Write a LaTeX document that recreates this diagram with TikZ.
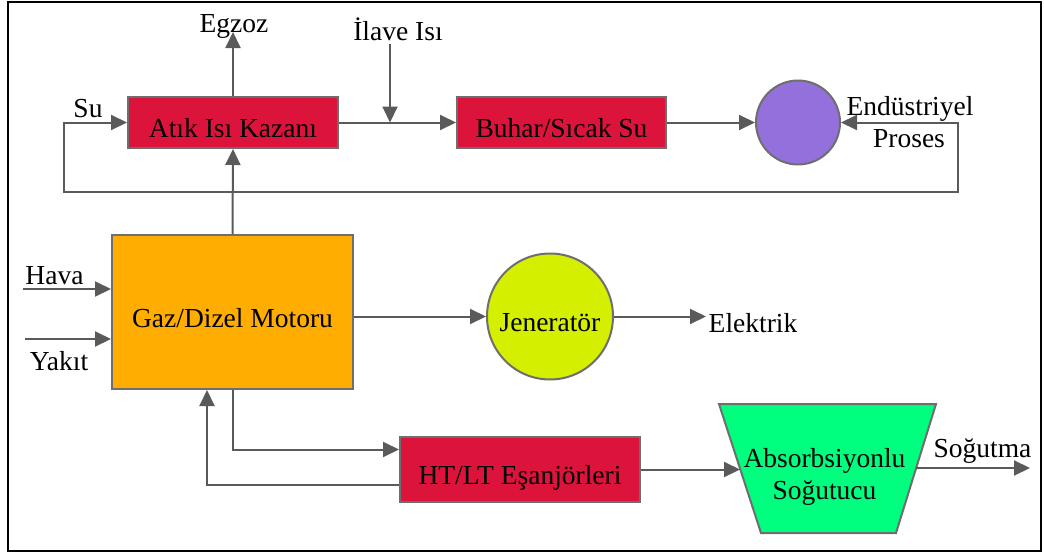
\documentclass[tikz,border=0pt]{standalone}
\usepackage{fontspec}
\setmainfont{Liberation Serif}
\newfontfamily\lserif{Liberation Serif}
\usetikzlibrary{arrows.meta,calc}
\definecolor{lineg}{HTML}{5A5A5A}
\definecolor{edgeg}{HTML}{6E6E6E}
\definecolor{kred}{HTML}{DC143C}
\definecolor{korange}{HTML}{FFAD00}
\definecolor{kpurple}{HTML}{9370DB}
\definecolor{kyellow}{HTML}{D4F000}
\definecolor{kgreen}{HTML}{00FF7F}
\begin{document}
\begin{tikzpicture}[x=1pt,y=-1pt,
  every node/.style={font=\lserif\fontsize{27.5}{32}\selectfont, inner sep=0pt},
  tip/.tip={Triangle[length=16pt,width=15pt]},
  flow/.style={draw=lineg, line width=2pt, -tip},
  flowboth/.style={draw=lineg, line width=2pt, tip-tip},
  boxnode/.style={draw=edgeg, line width=2pt, text height=30pt, text depth=0pt},
  roundnode/.style={circle, draw=edgeg, line width=2pt},
  lbl/.style={anchor=base}]
\useasboundingbox (0,0) rectangle (1044,554);
\draw[line width=2pt] (8,2) rectangle (1041,551);

% blocks
\node[boxnode, fill=kred, minimum width=210pt, minimum height=51pt] (kaz) at (233,122.5) {Atık Isı Kazanı};
\node[boxnode, fill=kred, minimum width=209pt, minimum height=51pt] (buh) at (561.5,122.5) {Buhar/Sıcak Su};
\node[roundnode, fill=kpurple, minimum size=84pt] (ind) at (798,122.5) {};
\node[boxnode, fill=korange, minimum width=241pt, minimum height=154pt] (eng) at (232.5,312) {Gaz/Dizel Motoru};
\node[roundnode, fill=kyellow, minimum size=126pt, text height=30pt, text depth=0pt] (gen) at (550,316.5) {Jeneratör};
\node[boxnode, fill=kred, minimum width=240pt, minimum height=65pt] (ht) at (520,469.5) {HT/LT Eşanjörleri};
\draw[draw=edgeg, line width=2pt, fill=kgreen] (719,404) -- (936,404) -- (896,533) -- (761,533) -- cycle;
\coordinate (absL) at (740,468);
\coordinate (absR) at (916,468);
\node[lbl] (absA) at (824.5,467) {Absorbsiyonlu};
\node[lbl] (absB) at (824.5,499) {Soğutucu};

% labels
\node[lbl] (egzoz) at (234,32) {Egzoz};
\node[lbl] (ilave) at (398,40) {İlave Isı};
\node[lbl] (su) at (88,117) {Su};
\node[lbl] (endu) at (910,115) {Endüstriyel};
\node[lbl] (proses) at (909,147) {Proses};
\node[lbl] (hava) at (54.5,284) {Hava};
\node[lbl] (yakit) at (59,370) {Yakıt};
\node[lbl] (elek) at (753,332) {Elektrik};
\node[lbl] (sogt) at (982.5,457) {Soğutma};

% free ends
\coordinate (ilv) at (390,44);
\coordinate (havaS) at (23,289);
\coordinate (yakS) at (25,339);
\coordinate (elk) at (706,316.5);
\coordinate (sog) at (1030,468);
\coordinate (loopL) at (64,192);
\coordinate (loopR) at (958,192);

% connectors
\draw[flowboth] (kaz.west) -| (loopL) -- (loopR) |- (ind.east);
\draw[flow] (eng.north) -- (kaz.south);
\draw[flow] (kaz.north) -- (kaz.north |- egzoz.base);
\draw[flow] (kaz.east) -- (buh.west);
\draw[flow] (ilv) -- (ilv |- kaz.east);
\draw[flow] (buh.east) -- (ind.west);
\draw[flow] (havaS) -- (havaS -| eng.west);
\draw[flow] (yakS) -- (yakS -| eng.west);
\draw[flow] (eng.east |- gen.west) -- (gen.west);
\draw[flow] (gen.east) -- (elk);
\draw[flow] (eng.south) |- ([yshift=20pt]ht.west);
\draw[flow] ([yshift=-15pt]ht.west) -| ([xshift=-25.5pt]eng.south);
\draw[flow] (ht.east) -- (ht.east -| absL);
\draw[flow] (absR) -- (absR -| sog);
\end{tikzpicture}
\end{document}
